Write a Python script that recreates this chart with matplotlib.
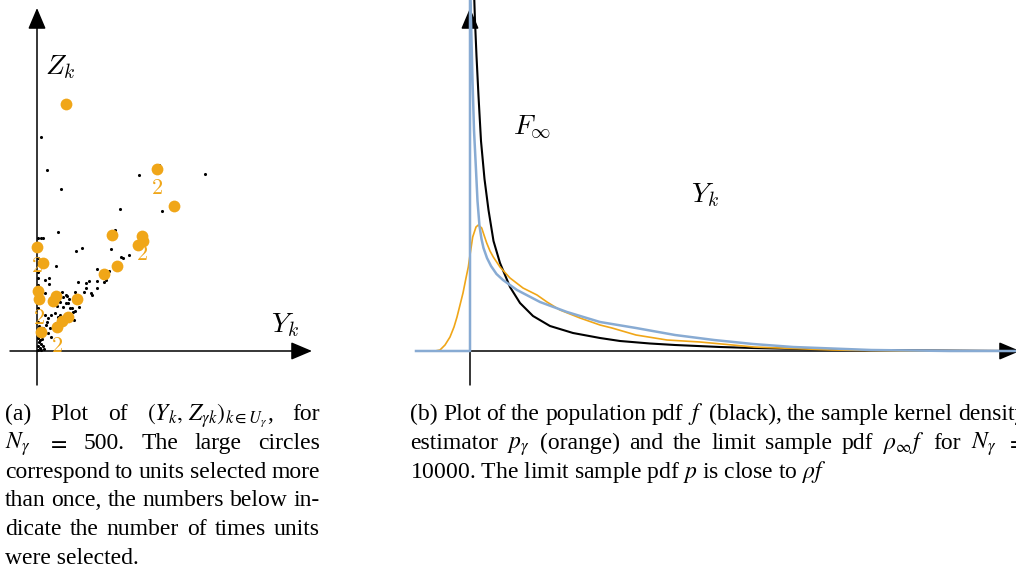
import matplotlib
matplotlib.use('Agg')
import matplotlib.pyplot as plt

plt.rcParams['font.family'] = 'serif'
plt.rcParams['font.serif'] = ['Liberation Serif', 'DejaVu Serif']
plt.rcParams['mathtext.fontset'] = 'stix'

ORANGE = '#f0a618'
BLUE = '#88abd3'

# ---- panel (a): population units (Y_k, Z_k) ----
dots_y = [0.2, 0.5, 1.2, 5.1, 6.1, 8.4, 4.15, 6.25, 1.05, 3.9, 0.05, 0.19, 0.3,
          1.95, 2.25, 3.7, 4.2, 4.3, 4.6, 0.95, 3.0, 3.6,
          2.05, 2.45, 2.6, 3.0, 3.35, 3.45, 3.0, 2.45, 2.35, 2.7, 2.75, 1.9, 1.25,
          1.5, 1.6, 1.55, 1.75, 1.9, 2.1, 1.8, 1.3, 1.45, 0.6, 0.4, 0.6,
          0.05, 0.05, 0.05, 0.05, 0.05, 0.05, 0.05, 0.05, 0.05, 0.1, 0.05, 0.05,
          0.15, 0.2, 0.25, 0.3, 0.35, 0.15, 0.1, 0.15, 0.2,
          1.15, 1.3, 1.45, 1.65, 1.0, 0.4, 0.55, 0.7, 0.9, 1.05, 1.15, 0.45,
          0.65, 0.8, 0.95, 0.55, 0.7, 0.3, 1.85, 1.3, 0.5, 0.4]
dots_z = [10.7, 9.05, 8.1, 8.8, 9.3, 8.85, 7.1, 7.0, 5.95, 6.05, 5.65, 5.65, 5.65,
          5.0, 5.15, 5.1, 4.7, 4.65, 4.8, 4.25, 4.1, 4.0,
          3.45, 3.4, 3.5, 3.5, 3.45, 3.55, 3.15, 3.15, 2.95, 2.9, 2.8, 2.95, 2.95,
          2.75, 2.6, 2.4, 2.15, 2.0, 2.2, 1.95, 2.7, 2.8, 3.65, 3.55, 3.35,
          4.65, 4.4, 3.95, 3.65, 3.3, 2.15, 1.45, 1.05, 0.65, 0.45, 0.25, 0.05,
          0.15, 0.35, 0.6, 0.25, 0.1, 0.75, 1.25, 0.55, 0.05,
          2.45, 2.2, 2.4, 2.15, 2.25, 1.8, 1.65, 1.8, 1.9, 1.7, 1.8, 1.3,
          1.15, 1.2, 1.4, 0.9, 0.7, 1.15, 1.55, 1.65, 1.45, 2.9]

# selected units and how many times each was drawn
sel_y = [1.45, 6.0, 6.85, 3.75, 5.25, 5.3, 5.05, 0.0, 0.3, 4.0,
         3.35, 0.05, 0.1, 0.95, 0.8, 2.0, 1.55, 1.25, 1.0, 0.2]
sel_z = [12.35, 9.1, 7.25, 5.8, 5.75, 5.5, 5.3, 5.2, 4.4, 4.25,
         3.85, 3.0, 2.6, 2.75, 2.5, 2.6, 1.7, 1.5, 1.2, 0.95]
sel_count = [1, 2, 1, 1, 2, 1, 1, 2, 1, 1,
             1, 1, 2, 1, 1, 1, 1, 1, 2, 1]

# ---- panel (b): densities ----
f_y = [0.08, 0.10, 0.13, 0.17, 0.22, 0.29, 0.37, 0.47, 0.60, 0.80, 1.00, 1.26,
       1.60, 2.06, 2.60, 3.00, 3.60, 4.10, 5.00, 5.66, 6.60, 7.64, 9.00, 11.0]
f_v = [3.60, 3.30, 2.95, 2.55, 2.10, 1.72, 1.41, 1.10, 0.88, 0.64, 0.48, 0.35,
       0.25, 0.18, 0.13, 0.10, 0.075, 0.06, 0.04, 0.03, 0.02, 0.01, 0.005, 0.0]

rho_y = [-1.08, 0.0, 0.0, 0.02, 0.05, 0.08, 0.12, 0.15, 0.19, 0.23, 0.27, 0.34,
         0.42, 0.53, 0.66, 0.94, 1.4, 1.94, 2.6, 3.32, 4.1, 4.88, 5.66, 6.46,
         8.02, 9.6, 11.0]
rho_v = [0.0, 0.0, 3.6, 3.31, 2.71, 2.21, 1.81, 1.50, 1.25, 1.12, 1.03, 0.93,
         0.85, 0.77, 0.71, 0.61, 0.49, 0.39, 0.29, 0.23, 0.16, 0.11, 0.07, 0.04,
         0.01, 0.0, 0.0]

kde_y = [-1.08, -0.7, -0.6, -0.5, -0.4, -0.32, -0.26, -0.2, -0.14, -0.08, -0.034,
         0.0, 0.054, 0.12, 0.166, 0.234, 0.28, 0.334, 0.4, 0.466, 0.6, 0.8, 1.06,
         1.34, 1.54, 1.8, 2.2, 2.6, 2.84, 3.32, 3.94, 4.6, 5.68, 7.24, 8.6, 11.0]
kde_v = [0.0, 0.0, 0.01, 0.06, 0.14, 0.24, 0.34, 0.46, 0.58, 0.73, 0.84,
         0.96, 1.14, 1.24, 1.26, 1.23, 1.16, 1.08, 1.0, 0.94, 0.84, 0.73, 0.63,
         0.56, 0.49, 0.41, 0.33, 0.26, 0.23, 0.16, 0.11, 0.09, 0.04, 0.01, 0.0, 0.0]

W, H = 1016, 571
fig = plt.figure(figsize=(W / 100, H / 100), dpi=100)


def box(x0, y0, x1, y1):
    # axes placed by pixel box, y counted from the top
    ax = fig.add_axes([x0 / W, 1 - y1 / H, (x1 - x0) / W, (y1 - y0) / H])
    ax.axis('off')
    return ax


def arrow(ax, start, end):
    ax.annotate('', xy=end, xytext=start, xycoords='data', annotation_clip=False,
                arrowprops=dict(arrowstyle='-|>,head_length=1.3,head_width=0.55',
                                mutation_scale=10, lw=1.1, color='black',
                                shrinkA=0, shrinkB=0), zorder=2)


# (a)
ax1 = box(0, 0, 330, 390)
ax1.set_xlim(-1.85, 14.65)
ax1.set_ylim(-1.95, 17.55)
arrow(ax1, (0, -1.7), (0, 17.15))
arrow(ax1, (-1.35, 0), (13.75, 0))
ax1.scatter(dots_y, dots_z, s=5, color='black', linewidths=0, zorder=3)
ax1.scatter(sel_y, sel_z, s=72, color=ORANGE, linewidths=0, zorder=4)
for y, z, c in zip(sel_y, sel_z, sel_count):
    if c > 1:
        ax1.text(y, z - 1.0, f'${c}$', color=ORANGE, fontsize=16, math_fontfamily='cm',
                 ha='center', va='center', zorder=5)
ax1.text(1.15, 14.2, '$Z_k$', fontsize=20, math_fontfamily='cm', ha='center', va='center')
ax1.text(12.4, 1.3, '$Y_k$', fontsize=20, math_fontfamily='cm', ha='center', va='center')

# (b)
ax2 = box(400, 0, 1016, 390)
ax2.set_xlim(-1.4, 10.92)
ax2.set_ylim(-0.39, 3.51)
arrow(ax2, (0, -0.34), (0, 3.43))
arrow(ax2, (-1.08, 0), (11.0, 0))
ax2.plot(f_y, f_v, color='black', lw=1.5, zorder=3)
ax2.plot(kde_y, kde_v, color=ORANGE, lw=1.2, zorder=4)
ax2.plot(rho_y, rho_v, color=BLUE, lw=1.8, zorder=5)
ax2.text(1.24, 2.24, r'$F_\infty$', fontsize=20, math_fontfamily='cm', ha='center', va='center')
ax2.text(4.7, 1.56, '$Y_k$', fontsize=20, math_fontfamily='cm', ha='center', va='center')

# captions, justified line by line
renderer = fig.canvas.get_renderer()
CAP = 17


def line(words, x0, y, x1=None):
    if x1 is None:
        fig.text(x0 / W, 1 - y / H, ' '.join(words), fontsize=CAP, va='baseline')
        return
    texts = [fig.text(0, 0, w, fontsize=CAP, va='baseline') for w in words]
    widths = [t.get_window_extent(renderer).width for t in texts]
    gap = (x1 - x0 - sum(widths)) / (len(words) - 1)
    x = x0
    for t, w in zip(texts, widths):
        t.set_position((x / W, 1 - y / H))
        x += w + gap


base = [420 + 28.8 * i for i in range(6)]
cap_a = [
    ['(a)', 'Plot', 'of', r'$(Y_k,\,Z_{\gamma k})_{k\in U_\gamma}$,', 'for'],
    [r'$N_\gamma$', '$=$', '500.', 'The', 'large', 'circles'],
    'correspond to units selected more'.split(),
    'than once, the numbers below in-'.split(),
    'dicate the number of times units'.split(),
]
for i, words in enumerate(cap_a):
    line(words, 5, base[i], 320)
line(['were', 'selected.'], 5, base[5])

cap_b = [
    ['(b)', 'Plot', 'of', 'the', 'population', 'pdf', '$f$', '(black),', 'the',
     'sample', 'kernel', 'density'],
    ['estimator', r'$p_\gamma$', '(orange)', 'and', 'the', 'limit', 'sample', 'pdf',
     r'$\rho_\infty f$', 'for', r'$N_\gamma$', '$=$'],
]
for i, words in enumerate(cap_b):
    line(words, 410, base[i], 1026)
line(['10000.', 'The', 'limit', 'sample', 'pdf', '$p$', 'is', 'close', 'to', r'$\rho f$'],
     410, base[2])

fig.savefig('out.png', dpi=100)
